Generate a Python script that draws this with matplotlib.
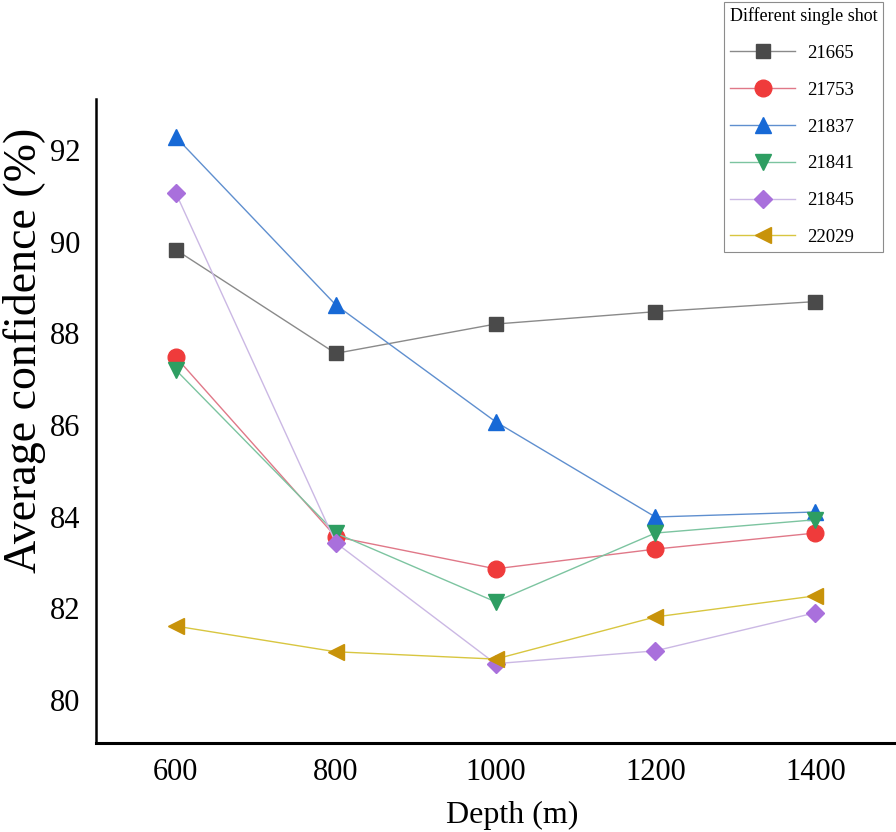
import matplotlib
matplotlib.use("Agg")
import matplotlib.pyplot as plt

plt.rcParams['font.family'] = ['Liberation Serif', 'DejaVu Serif']

depth = [600, 800, 1000, 1200, 1400]
shots = ["21665", "21753", "21837", "21841", "21845", "22029"]
s21665 = [89.82, 87.56, 88.20, 88.47, 88.69]
s21753 = [87.48, 83.56, 82.86, 83.29, 83.64]
s21837 = [92.28, 88.62, 86.07, 83.99, 84.10]
s21841 = [87.20, 83.64, 82.14, 83.64, 83.93]
s21845 = [91.06, 83.43, 80.79, 81.07, 81.90]
s22029 = [81.61, 81.05, 80.89, 81.81, 82.27]
series = [s21665, s21753, s21837, s21841, s21845, s22029]

markers = ['s', 'o', '^', 'v', 'D', '<']
msizes = [10, 12, 12, 12, 9.5, 12]
mcolors = ['#4a4a4a', '#ef3b3b', '#1769d6', '#2e9e62', '#a970dc', '#c8930a']
lcolors = ['#8a8a8a', '#e07888', '#5f8fcf', '#7cc4a0', '#cbb8e4', '#d8c640']

fig = plt.figure(figsize=(8.96, 8.32), dpi=100)
ax = fig.add_axes([0.107, 0.107, 0.893, 0.774])

handles = []
for vals, name, m, ms, mc, lc in zip(series, shots, markers, msizes, mcolors, lcolors):
    h, = ax.plot(depth, vals, color=lc, lw=1.0, marker=m, markersize=ms,
                 markerfacecolor=mc, markeredgecolor=mc, label=name)
    handles.append(h)

ax.set_xlim(500, 1501)
ax.set_ylim(79.06, 93.11)
ax.set_xticks(depth)
ax.set_yticks([80, 82, 84, 86, 88, 90, 92])
ax.tick_params(axis='both', length=0, labelsize=22, pad=11)
for s in ['top', 'right']:
    ax.spines[s].set_visible(False)
ax.spines['left'].set_linewidth(1.8)
ax.spines['bottom'].set_linewidth(2.2)
ax.set_xlabel("Depth (m)", fontsize=23)
ax.set_ylabel("Average confidence (%)", fontsize=33)
ax.xaxis.set_label_coords((512 - 96) / 800, -(815 - 743) / 644, transform=ax.transAxes)
ax.xaxis.label.set_va('center')
ax.yaxis.set_label_coords(-(96 - 25) / 800, (743 - 350) / 644, transform=ax.transAxes)
ax.yaxis.label.set_va('center')

leg = fig.legend(handles=handles, title="Different single shot",
                 loc='upper right', bbox_to_anchor=(0.9855, 0.998),
                 fontsize=13.5, title_fontsize=13, frameon=True, fancybox=False,
                 edgecolor='#707070', handlelength=3.5, handletextpad=0.6,
                 labelspacing=1.05, borderpad=0.3, borderaxespad=0.0,
                 alignment='left')
leg.get_frame().set_linewidth(0.8)

fig.savefig("out.png", dpi=100)
